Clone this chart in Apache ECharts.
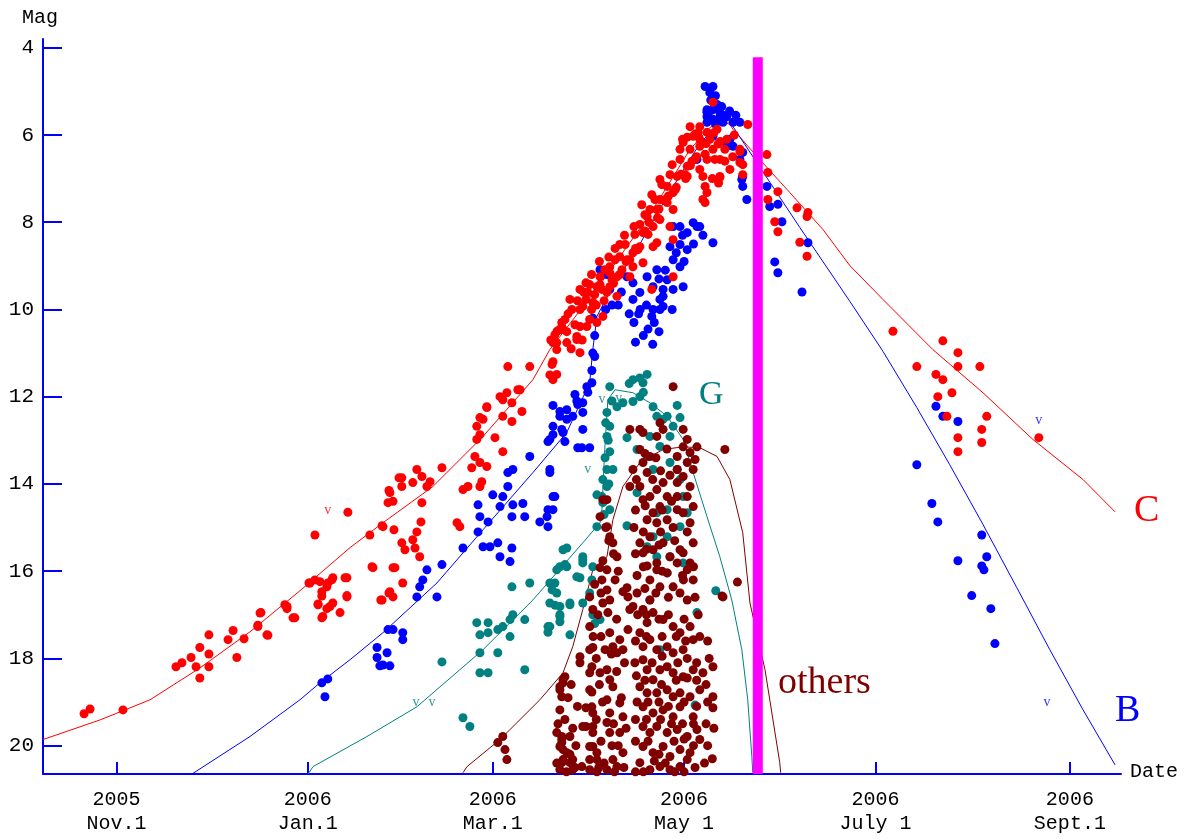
<!DOCTYPE html>
<html>
<head>
<meta charset="utf-8">
<script src="https://cdn.jsdelivr.net/npm/echarts@6/dist/echarts.min.js"></script>
<style>html,body{margin:0;padding:0;background:#fff;}#c{width:1188px;height:839px;}</style>
</head>
<body>
<div id="c"></div>
<script>
// x values: days from 2006 Jan.1 ; y values: magnitude
const xTickDays = [-61, 0, 59, 120, 181, 243];
const xTickLabels = ['2005\nNov.1', '2006\nJan.1', '2006\nMar.1', '2006\nMay 1', '2006\nJuly 1', '2006\nSept.1'];
const yTicks = [4, 6, 8, 10, 12, 14, 16, 18, 20];
const xRange = [-84.4, 259.3];
const yRange = [3.8, 20.65];

const redPoints = [
[-71.3,19.27],[-69.4,19.16],[-58.9,19.18],
[-42.0,18.19],[-40.1,18.10],[-37.2,17.98],[-35.6,18.19],[-34.4,18.45],[-34.4,17.75],[-31.5,17.46],[-31.5,17.9],[-31.5,18.19],
[-25.4,17.57],[-23.8,17.36],[-22.6,17.98],[-20.3,17.55],[-15.9,17.27],[-14.9,16.95],[-13.0,17.46],
[-7.3,16.77],[-6.6,16.86],[-4.7,17.07],[0.4,16.27],[2.3,15.17],[2.3,16.2],[3.3,16.75],[4.5,16.47],[4.5,17.07],[6.1,16.86],[6.4,16.27],[8.0,16.15],[8.0,16.73],[10.3,16.95],[12.5,16.15],[12.5,16.56],[12.8,14.65],[19.8,15.17],[20.5,15.9],[23.7,14.96],[23.3,16.66],[25.9,14.15],[25.6,14.43],[27.5,15.05],[27.2,15.92],[25.9,16.5],[29.1,13.86],
[63.8,11.31],[70.8,11.31],[77.9,11.26],[79.4,11.49],[78.2,11.61],[86.8,10.99],
[63.5,11.91],[67.0,11.84],[65.1,12.14],[62.2,12.07],[57.1,12.25],[68.3,12.34],[65.1,12.57],[62.2,12.45],[55.9,12.52],[53.9,12.68],[54.9,12.87],[59.7,12.94],[53.9,12.98],[62.2,13.26],[53.3,13.37],[54.9,13.51],[57.1,13.60],[52.3,13.63],[55.5,13.95],[49.5,14.13],[51.1,14.06],[54.9,14.06],[47.6,14.89],[48.5,14.98],[42.8,13.63],[36.4,13.83],[34.8,13.67],[39.0,13.95],[38.0,14.06],[33.5,13.97],[30.0,13.86],[30.0,14.06],[26.2,14.2],[27.2,14.4],[36.4,14.43],[36.1,14.87],[34.8,15.10],[33.5,15.28],[30.0,15.35],[31.0,15.51],[34.2,15.47],[35.7,15.67],[27.8,15.92],[20.8,15.92],[30.3,16.27],[26.2,16.47],[27.2,16.59],[23.7,16.66],[24.0,14.98],[11.9,16.15],[12.5,16.59],[7.7,16.2],[3.9,16.24],[0.7,16.27],[6.1,16.36],[4.5,16.57],[7.1,16.81],[4.8,17.04],[3.3,16.77],[-6.6,16.81],[-4.1,17.07],[-15.2,16.96],[-15.9,17.24],[-12.7,17.47],
[88.7,9.39],[86.8,10.0],[82.6,10.51],[79.4,10.76],[78.2,11.2],[77.2,11.5],[67.7,11.84],[61.3,12.0],[57.1,12.23],[54.9,12.48],[85.8,10.69],
[78.2,10.76],[81.4,10.46],[86.8,10.39],[89.9,10.23],[89.3,9.61],[92.2,9.48],[95.4,9.61],[93.2,9.25],[98.6,9.25],[96.3,9.02],[101.8,8.86],[103.7,8.70],[99.5,8.79],[98.6,9.70],[102.7,9.25],[105.9,8.56],[106.9,8.24],[110.1,8.10],[108.2,7.87],[111.3,7.71],[112.3,7.48],[114.6,7.55],[111.3,8.47],[115.5,8.10],[116.5,8.40],[109.7,7.37],[114.6,7.18],[117.8,6.95],[116.5,7.32],[118.7,6.56],[119.7,6.17],[122.9,6.03],[125.0,6.26],[127.3,5.94],[129.2,6.33],[131.4,6.56],[125.0,6.79],[121.9,5.81],[125.0,5.81],[130.5,5.87],[133.6,6.10],[127.3,6.56],[121.0,6.72],[121.0,6.95],[126.0,6.95],[127.3,7.32],[126.7,7.55],[131.4,6.95],[134.6,6.79],[137.8,6.33],[140.3,5.76],[137.8,6.63],[138.7,6.91],[129.2,5.25],[116.2,6.68],[116.5,7.71],[112.3,7.94],[103.7,9.02],[96.3,9.48],[93.8,9.54],[90.9,9.84],[87.7,9.93],[89.0,10.39],[85.8,10.62],[82.6,10.76],[80.4,10.46],[79.4,10.92],[116.5,9.25],[109.7,9.54],[94.1,10.16],[92.2,10.30],[96.3,9.16],[106.9,8.93],[110.1,8.56],
[83.6,9.77],[86.8,9.54],[88.7,9.77],[89.9,9.43],[91.5,9.66],[93.2,9.43],[94.7,9.09],[97.0,9.32],[98.0,8.86],[100.2,9.09],[101.2,8.51],[102.7,8.86],[104.3,8.28],[105.3,8.63],[107.5,7.83],[108.5,8.28],[110.7,7.48],[109.1,7.71],[112.9,7.14],[113.9,7.48],[115.5,6.91],[117.2,7.25],[118.7,6.33],[120.3,6.91],[121.9,6.33],[123.5,6.56],[125.0,6.10],[126.7,6.44],[128.2,6.10],[129.8,6.56],[130.8,6.21],[133.0,6.33],[123.5,5.98],[112.3,7.02],[105.9,8.05],[99.5,8.51],[82.0,10.23],[84.2,10.0],[85.2,10.35],[78.8,10.58],
[84.0,10.9],[81.0,10.3],[87.5,10.7],[90.5,10.0],[92.0,9.9],[94.5,9.8],[97.5,9.4],[99.5,9.2],[101.5,8.9],[104.5,8.6],[107.5,8.2],[108.8,8.0],[111.5,7.9],[113.5,7.5],[115.0,7.4],[117.5,7.2],[119.0,6.9],[120.5,7.0],[122.5,6.6],[124.0,6.5],[122.0,6.7],[119.5,6.1],[121.0,6.05],[124.5,5.95],[127.0,6.2],[129.5,5.95],[131.5,6.15],[133.0,6.6],[135.5,6.5],[136.0,6.0],[131.0,7.1],[129.0,7.0],[112.0,7.7],[104.0,8.1],[106.5,7.6],[101.0,8.3],[98.0,8.6],[96.0,8.8],[93.0,8.9],[90.5,9.2],[88.0,9.6],[86.0,9.8],[83.0,10.1],[81.0,10.4],[79.5,10.5],[77.5,10.7],
[137.8,6.38],[131.4,6.97],[138.7,6.68],[146.4,6.45],[146.7,6.86],[146.7,7.48],[149.9,7.30],[148.9,7.99],[149.9,8.22],[156.0,7.67],[159.5,7.78],[159.2,7.87],[156.9,8.46],[159.2,8.78],[126.0,7.48],[126.7,7.18],
[186.6,10.5],[202.5,10.72],[207.3,10.99],[207.3,11.31],[194.2,11.31],[214.3,11.31],[200.3,11.49],[202.5,11.61],[205.4,11.91],[200.9,12.0],[203.8,12.45],[216.5,12.45],[214.9,12.75],[207.3,12.94],[214.9,13.05],[207.3,13.26],[233.1,12.94]
];

const bluePoints = [
[4.5,18.56],[6.4,18.47],[5.5,18.88],[25.6,17.34],[27.2,17.34],[22.1,17.75],[22.1,17.98],[25.3,17.87],[23.0,18.17],[26.2,18.17],
[24.0,18.15],[30.3,17.41],[30.3,17.57],[34.8,16.59],[35.7,16.36],[38.0,15.97],[36.7,16.20],[41.2,16.59],[42.8,15.85],[49.5,15.47],[54.3,15.10],[55.9,15.44],[58.1,15.44],[60.6,15.35],[61.3,15.67],[64.5,15.78],[65.1,15.47],[57.5,14.87],[54.9,14.75],[54.3,14.48],[59.0,14.25],[62.2,14.29],[61.3,14.52],[65.4,14.48],[65.1,14.75],[68.6,14.45],[69.2,14.75],[63.8,13.74],[65.4,13.67],[63.8,14.06],[70.8,13.37],[74.0,14.87],[76.6,14.98],[76.6,14.59],[78.8,14.29],[77.2,13.74],[76.6,13.03],[78.2,12.87],[81.0,12.75],[82.0,13.03],[80.4,12.34],[82.6,12.52],[86.1,12.18],[87.7,12.36],[87.7,12.75],[87.4,13.17],[89.9,13.17],[85.2,11.95],[89.0,11.77],[90.6,11.68],[91.5,11.08],
[87.7,12.14],[84.5,12.45],[80.4,12.45],[78.2,12.68],[81.4,12.82],[77.2,12.98],[86.1,13.17],[77.2,13.67],[78.2,14.29],[78.2,14.59],[76.3,14.75],
[90.9,10.2],[91.5,10.6],[90.9,11.0],[90.6,11.4],[89.3,11.9],[78.2,12.2],[82.6,12.3],[85.8,12.1],
[93.2,9.09],[96.3,9.54],[95.4,9.2],[101.8,9.25],[103.7,9.39],[105.9,9.61],[103.7,9.77],[108.2,9.25],[110.1,9.48],[112.3,9.77],[113.3,9.54],[114.6,9.32],[111.3,9.09],[116.5,8.86],[118.7,9.02],[118.7,8.10],[121.0,8.24],[121.0,8.63],[125.0,8.10],[118.7,8.51],[115.5,8.56],[116.5,8.10],[122.9,8.01],[129.2,8.47],[119.7,9.48],[116.5,9.54],[113.3,9.70],[113.3,9.93],[112.3,10.0],[110.1,10.0],[109.7,10.16],[116.2,10.0],[112.0,10.51],
[99.0,9.9],[102.5,10.1],[104.0,10.3],[106.0,10.0],[108.0,9.9],[114.0,9.1],[117.5,8.7],[119.5,8.3],[120.0,8.9],[123.0,8.5],[110.5,10.3],[107.0,10.6],[104.5,10.75],[110.0,10.8],[112.0,9.3],[97.0,9.9],[95.0,10.0],[100.0,9.6],[108.5,10.45],[105.5,10.1],
[126.7,4.89],[129.2,4.89],[128.2,5.03],[127.3,5.42],[127.3,5.58],[129.2,5.42],[131.4,5.48],[129.2,5.64],[133.6,5.58],[127.3,5.71],[135.6,5.71],[137.8,5.71],[134.6,6.10],[133.6,6.26],[138.7,6.40],[137.8,6.56],[138.7,6.95],[138.7,7.18],[140.0,7.48],[135.6,6.26],[126.0,6.17],[124.1,6.56],[129.2,6.03],[131.4,5.6],[132.4,5.55],
[128.5,5.2],[130.5,5.3],[130.0,5.1],[132.0,5.35],[134.5,5.45],[136.5,5.55],[128.0,5.6],[130.0,5.75],
[127.3,5.48],[132.4,5.71],[134.6,6.20],[138.4,7.02],[146.4,7.18],[147.3,7.64],[149.9,7.59],[151.2,7.99],[148.9,8.91],[149.9,9.16],[157.6,9.6],[159.5,8.47],[124.1,8.10],[126.0,8.3],
[200.3,12.22],[202.5,12.45],[207.3,12.57],[194.2,13.56],[199.0,14.45],[200.9,14.87],[214.9,15.17],[216.5,15.67],[214.9,15.88],[215.6,15.97],[207.3,15.76],[211.7,16.56],[217.8,16.86],[219.1,17.66]
];

const tealPoints = [
[49.5,19.36],[51.7,19.56],[42.8,18.08],[54.9,18.33],[57.5,18.33],[69.2,18.26],[54.9,17.87],[53.9,17.18],[57.5,17.18],[57.5,17.41],[54.9,17.46],[60.6,17.34],[62.2,17.27],[64.5,17.11],[65.4,17.0],[69.2,17.11],[64.5,17.50],[60.6,17.87],[65.1,16.36],[70.8,16.27],[77.2,16.27],[77.9,16.43],[77.2,16.73],[80.4,16.81],[80.4,17.04],[77.2,17.27],[83.6,16.77],[83.6,17.46],[79.4,15.97],[82.0,15.85],[86.8,16.15],[87.7,15.67],[87.7,15.81],[81.4,15.51],[82.6,15.47],[92.2,14.98],[92.2,14.25],
[80.4,15.90],[87.7,15.74],[90.9,15.90],[101.8,14.96],[105.0,14.20],[101.8,12.94],[105.0,13.21],[103.7,11.61],[105.9,11.57],[108.2,11.49],[106.9,11.68],[105.9,12.0],[103.7,12.11],[100.5,12.14],[98.6,12.23],[96.3,11.77],[95.4,12.36],[96.3,12.68],[95.4,12.91],[96.3,13.26],[95.4,13.67],[97.3,13.67],[94.1,13.9],[95.4,14.06],[93.8,14.29],[94.1,14.43],[96.3,14.59],[110.1,12.23],[111.3,12.45],[113.3,12.52],[114.6,12.45],[117.8,12.2],[118.7,12.48],[116.5,12.68],[115.5,12.91],[112.3,13.14],[109.1,12.91],[108.2,13.37],[110.1,13.67],[115.5,13.51],[114.6,14.59],[111.3,14.66],[114.6,15.21],[110.1,15.21],[108.2,15.44],[115.5,15.67],[111.3,15.67],[118.7,14.98],[121.0,14.66],[119.7,14.29],[117.8,13.67],[118.7,13.90],
[130.1,16.45],[82.6,15.9],[85.8,16.13],[78.8,16.27],[79.4,16.5],[78.8,16.78],[80.4,17.0],[80.4,17.16],[76.6,17.27],[76.6,17.4],[83.6,16.73],[87.7,16.73],[90.6,16.2],[90.9,17.0],[91.5,17.2],[93.2,17.11],[89.9,16.5],[109.1,16.66],[112.3,17.8],[114.6,16.04],[119.7,15.81],[124.1,16.95],[123.5,19.07],
[95.0,12.6],[95.8,13.0],[94.8,13.4],[96.0,14.0],[94.5,14.7],[97.0,12.1],[102.5,11.7],[107.0,11.9]
];

const darkRedPoints = [
[62.2,19.79],[62.9,20.09],[63.5,20.32],[60.6,19.93],
[81.4,18.56],[81.0,18.88],[80.4,19.18],[80.4,18.65],[82.0,18.42],[89.9,17.80],[86.8,18.10],[89.9,18.72],[87.7,19.56],[90.9,19.25],[90.9,19.70],[92.2,20.16],[81.0,19.86],[81.4,20.09],[81.0,20.39],[83.6,19.79],[84.5,20.32],[87.4,20.48],[93.2,18.33],
[81.4,18.49],[80.4,18.72],[81.0,19.79],[80.4,20.02],[82.6,20.16],[81.4,20.32],[83.6,20.39],[84.5,20.55],[80.4,20.55],[86.8,17.96],
[89.9,16.59],[90.9,16.88],[89.9,17.27],[90.9,17.75],[90.6,18.19],[89.9,18.33],[90.6,18.77],[90.6,19.11],[90.9,19.56],[90.9,20.02],[89.9,20.32],[89.9,20.55],[93.8,16.20],[95.4,16.43],[94.1,16.73],[95.7,16.95],[96.3,17.41],[97.3,17.73],[98.6,17.87],[100.5,17.80],[99.5,17.57],[95.4,18.26],[96.3,18.49],[97.3,18.65],[95.4,18.95],[96.3,19.25],[95.4,19.47],[96.3,19.70],[97.0,20.0],[97.3,20.32],[95.4,20.55],[98.6,20.48],[99.5,19.02],[100.5,19.34],[99.5,19.70],[100.5,20.16],[102.1,17.34],[102.7,16.88],[100.5,16.47],[96.3,16.66],[95.4,15.97],[94.1,15.76],[93.2,15.92],[88.7,19.56],[89.9,20.02],[88.7,19.13],[92.2,20.32],[92.2,20.6],
[91.5,16.3],[92.5,17.0],[93.5,17.5],[92.0,18.0],[93.0,18.6],[92.0,19.4],[93.5,19.9],[94.5,20.4],[98.0,16.2],[98.5,17.1],[97.5,19.5],[98.5,18.3],[99.0,20.0],[101.0,18.1],[100.0,18.9],[101.5,19.6],[96.8,17.9],[94.0,19.0],[92.8,20.5],[97.8,20.6],[100.8,20.5],[93.5,16.5],[91.0,17.5],[94.8,17.8],[99.0,16.0],[97.5,15.6],[96.0,15.3],[95.0,15.0],
[83.0,18.9],[82.0,19.4],[84.5,19.6],[85.5,20.0],[86.0,19.1],[82.5,20.6],[79.8,19.5],[84.0,18.6],
[108.2,15.88],[111.3,15.97],[114.6,16.04],[117.8,15.81],[121.0,15.97],[122.9,16.2],[109.1,16.2],[112.3,16.36],[116.5,16.36],[118.7,16.50],[121.0,16.66],[109.1,16.66],[106.9,16.88],[103.7,16.81],[110.1,16.95],[108.2,17.18],[113.3,17.11],[116.5,17.27],[118.7,17.41],[121.9,17.27],[122.9,17.57],[105.9,17.41],[106.9,17.73],[109.1,17.57],[111.3,17.80],[114.6,17.73],[116.5,17.87],[119.7,17.80],[106.9,18.03],[108.2,18.26],[110.1,18.49],[112.3,18.26],[114.6,18.19],[116.5,18.33],[119.7,18.42],[122.9,18.26],[126.0,18.33],[129.2,18.19],[105.9,18.65],[108.2,18.79],[111.3,18.79],[114.6,18.72],[116.5,18.88],[118.7,18.79],[121.9,18.88],[125.0,18.72],[129.2,18.88],[106.9,19.11],[110.1,19.25],[113.3,19.18],[116.5,19.34],[118.7,19.11],[122.9,19.34],[129.2,19.13],[106.9,19.56],[109.1,19.70],[111.3,19.56],[114.6,19.70],[117.8,19.63],[121.0,19.79],[124.1,19.63],[125.0,19.86],[106.9,20.02],[110.1,20.16],[113.3,20.02],[115.5,20.25],[118.7,20.09],[121.9,20.16],[105.9,20.39],[109.1,20.55],[112.3,20.48],[115.5,20.55],[118.7,20.48],[121.0,20.32],[132.1,16.57],[101.8,16.38],[102.1,16.59],
[107.5,13.3],[111.0,13.4],[114.5,13.2],[104.8,13.9],[110.0,13.9],[112.5,13.7],[115.5,13.8],[104.5,14.6],[107.6,14.5],[116.0,14.4],[113.0,14.6],[104.0,15.0],[107.0,15.1],[112.5,15.1],[116.5,15.0],[104.5,15.6],[108.0,15.5],[112.0,15.4],[117.0,15.3],[105.0,16.1],[107.0,15.9],[113.0,16.0],[119.5,16.1],[123.0,15.9],[105.0,16.5],[107.5,16.4],[111.0,16.5],[115.0,16.6],[119.8,16.2],[123.5,16.6],[105.2,17.0],[108.0,17.0],[112.0,17.1],[115.0,17.0],[120.0,17.1],[124.5,17.0],[104.5,17.6],[108.0,17.5],[113.0,17.5],[117.5,17.5],[120.5,17.6],[125.0,17.5],[127.5,17.6],[104.3,18.1],[109.8,18.1],[113.0,17.95],[118.0,18.1],[121.0,18.0],[124.0,18.1],[128.0,18.0],[104.8,18.4],[107.5,18.5],[112.8,18.6],[117.5,18.5],[121.0,18.45],[124.0,18.5],[127.0,18.6],[105.0,19.0],[108.5,19.0],[112.0,19.0],[115.0,19.1],[120.0,19.0],[124.0,19.1],[127.5,19.0],[104.5,19.4],[108.0,19.4],[112.5,19.4],[116.0,19.5],[119.5,19.5],[123.0,19.5],[127.0,19.5],[129.5,19.6],[104.5,19.9],[108.5,19.9],[112.0,20.2],[116.8,19.9],[120.0,19.85],[123.0,20.0],[127.5,20.0],[129.0,20.3],[107.0,20.6],[110.5,20.35],[114.0,20.4],[117.0,20.6],[120.0,20.6],[123.5,20.5],[126.5,20.4],[104.5,20.6],
[116.5,11.77],[133.0,13.21],[105.9,12.75],[111.3,12.91],[113.3,12.75],[119.7,12.75],[121.0,12.98],[109.1,13.37],[106.9,13.51],[108.2,13.74],[103.7,13.67],[102.7,14.06],[105.9,14.06],[106.9,14.36],[95.4,14.36],[93.2,14.75],[95.4,14.98],[96.3,15.21],[97.3,15.35],[98.6,15.67],[109.1,14.29],[111.3,14.13],[113.3,13.97],[114.6,14.29],[112.3,14.52],[110.1,14.66],[108.2,14.82],[111.3,14.89],[114.6,14.82],[117.8,14.59],[109.1,15.21],[105.9,15.35],[106.9,15.58],[110.1,15.51],[113.3,15.35],[115.5,15.67],[118.7,15.51],[111.3,15.81],
[119.7,13.15],[121.9,13.28],[121.0,13.51],[122.9,13.67],[119.7,13.83],[121.9,14.06],[121.0,14.29],[122.9,14.52],[119.7,14.66],[121.9,14.89],[121.0,15.10],[122.9,15.35],[119.7,15.58],[121.9,15.81],[117.8,13.37],[117.8,13.67],[117.8,13.97],[117.8,14.29],[124.1,13.15],[123.5,13.44],
[137.0,16.25],[132.4,16.59],[94.1,14.36],[102.7,12.75],[106.9,12.82],[112.3,12.6],[105.9,13.21],
[79.4,19.7],[81.0,19.93],[83.6,20.2],[85.2,20.5],[79.4,20.4]
];

const curveC = [[-84.4,19.86],[-66.2,19.41],[-50.3,18.95],[-34.4,18.22],[-18.4,17.39],[-2.5,16.45],[13.5,15.46],[24.0,14.89],[39.9,14.06],[55.9,12.91],[71.8,11.61],[77.2,10.92],[93.2,9.43],[109.1,7.82],[121.9,6.33],[128.2,5.83],[132.1,5.69],[134.6,5.76],[135.6,5.87],[143.2,6.49],[153.7,7.32],[164.3,8.17],[172.9,9.0],[183.4,9.77],[199.3,10.92],[215.3,11.91],[231.2,12.98],[247.2,13.9],[257.4,14.64]];
const curveB = [[-36.9,20.65],[-18.4,19.79],[-2.5,18.95],[3.9,18.56],[13.5,18.03],[24.0,17.41],[41.2,16.27],[55.9,15.05],[71.8,13.74],[82.6,12.82],[89.9,11.68],[90.9,10.92],[92.2,10.16],[96.3,9.6],[105.9,8.5],[115.5,7.3],[125.0,6.2],[131.4,5.7],[134.6,5.65],[135.6,5.81],[156.9,8.12],[172.9,9.82],[183.4,10.96],[194.2,12.25],[204.7,13.56],[215.3,14.93],[226.1,16.38],[236.6,17.80],[247.2,19.18],[257.4,20.44]];
const curveG = [[0.1,20.65],[1.7,20.48],[18.9,19.79],[34.8,19.11],[55.9,17.80],[71.8,16.66],[87.7,15.35],[93.2,14.89],[93.8,14.59],[94.7,13.21],[95.7,12.07],[98.0,11.84],[103.7,11.91],[109.1,12.14],[114.6,12.45],[119.7,12.98],[122.9,13.74],[127.3,14.75],[131.4,15.67],[135.2,16.66],[138.4,17.80],[140.3,18.95],[141.6,20.25],[141.9,20.62]];
const curveOthers = [[49.5,20.62],[50.8,20.48],[61.3,19.86],[74.0,18.95],[81.4,18.33],[84.5,17.73],[87.7,16.88],[90.9,15.97],[95.4,15.67],[97.3,14.82],[100.5,14.06],[105.9,13.51],[113.3,13.21],[119.7,13.15],[125.0,13.17],[130.5,13.37],[134.6,13.90],[138.7,15.12],[141.0,16.73],[145.8,18.26],[150.5,20.39],[150.8,20.62]];

const magentaBar = [[143.5, 4.22], [143.5, 20.65]];

const vRed = [[6.4, 14.6]];
const vBlue = [[233.1, 12.55], [235.7, 19.0]];
const vTeal = [[34.5, 19.0], [39.6, 19.0], [89.3, 13.67], [93.8, 12.07], [99.2, 12.03]];

const COLORS = { red: '#ff0000', blue: '#0000ff', teal: '#008080', dark: '#800000', magenta: '#ff00ff' };
const FONT = '"Liberation Mono", "DejaVu Sans Mono", monospace';

function pts(data, color, z) {
  return { type: 'scatter', data, symbol: 'circle', symbolSize: 9, itemStyle: { color, opacity: 1 }, z, silent: true, animation: false };
}
function curve(data, color, z) {
  return { type: 'line', data, symbol: 'none', showSymbol: false, lineStyle: { color, width: 1 }, z, silent: true, animation: false };
}
function vmark(data, color) {
  return { type: 'scatter', data, symbolSize: 1, itemStyle: { color: 'transparent' }, z: 20, silent: true,
    label: { show: true, position: 'inside', formatter: 'v', color, fontSize: 14, fontFamily: '"Liberation Serif", serif' } };
}

const chart = echarts.init(document.getElementById('c'), null, { renderer: 'canvas' });
const option = {
  animation: false,
  backgroundColor: '#ffffff',
  grid: { left: 43, right: 67, top: 39, bottom: 65, containLabel: false },
  xAxis: {
    type: 'value', min: xRange[0], max: xRange[1],
    axisLine: { show: true, onZero: false, lineStyle: { color: COLORS.blue, width: 2 } },
    axisTick: { show: true, inside: true, length: 12, customValues: xTickDays, lineStyle: { color: COLORS.blue, width: 2 } },
    axisLabel: {
      show: true, customValues: xTickDays, margin: 14, color: '#000', fontFamily: FONT, fontSize: 20, lineHeight: 24,
      formatter: function (v) { const i = xTickDays.indexOf(Math.round(v)); return i >= 0 ? xTickLabels[i] : ''; }
    },
    splitLine: { show: false }
  },
  yAxis: {
    type: 'value', inverse: true, min: yRange[0], max: yRange[1],
    axisLine: { show: true, onZero: false, lineStyle: { color: COLORS.blue, width: 2 } },
    axisTick: { show: true, inside: true, length: 19, customValues: yTicks, lineStyle: { color: COLORS.blue, width: 2 } },
    axisLabel: { show: true, customValues: yTicks, margin: 9, color: '#000', fontFamily: FONT, fontSize: 21 },
    splitLine: { show: false }
  },
  graphic: [
    { type: 'text', left: 22, top: 8, style: { text: 'Mag', fill: '#000', font: '20px ' + FONT } },
    { type: 'text', left: 1130, top: 762, style: { text: 'Date', fill: '#000', font: '20px ' + FONT } },
    { type: 'text', left: 1134, top: 492, style: { text: 'C', fill: COLORS.red, font: '38px "Liberation Serif", serif' } },
    { type: 'text', left: 1115, top: 692, style: { text: 'B', fill: COLORS.blue, font: '38px "Liberation Serif", serif' } },
    { type: 'text', left: 699, top: 378, style: { text: 'G', fill: COLORS.teal, font: '34px "Liberation Serif", serif' } },
    { type: 'text', left: 778, top: 664, style: { text: 'others', fill: COLORS.dark, font: '38px "Liberation Serif", serif' } }
  ],
  series: [
    curve(curveC, COLORS.red, 2),
    curve(curveB, COLORS.blue, 2),
    curve(curveG, COLORS.teal, 2),
    curve(curveOthers, COLORS.dark, 2),
    pts(bluePoints, COLORS.blue, 3),
    pts(tealPoints, COLORS.teal, 4),
    pts(darkRedPoints, COLORS.dark, 5),
    pts(redPoints, COLORS.red, 6),
    vmark(vRed, COLORS.red),
    vmark(vBlue, COLORS.blue),
    vmark(vTeal, COLORS.teal),
    { type: 'line', data: magentaBar, symbol: 'none', lineStyle: { color: COLORS.magenta, width: 10, cap: 'butt' }, z: 10, silent: true }
  ]
};
chart.setOption(option);
</script>
</body>
</html>
